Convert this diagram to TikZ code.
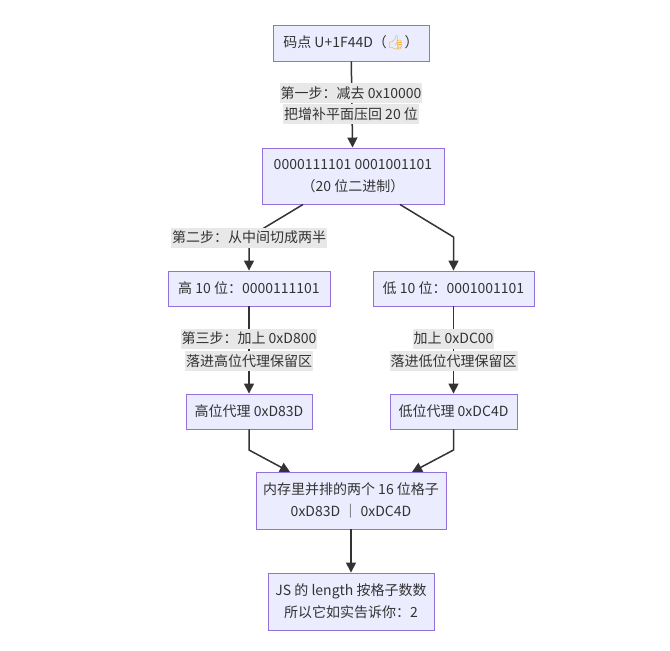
\documentclass[tikz,border=0pt]{standalone}
\usepackage{fontspec}
\setmainfont{Noto Sans CJK SC}
\newfontfamily\emojifont{Noto Emoji}
\usetikzlibrary{arrows.meta}
\definecolor{nodefill}{HTML}{ECECFF}
\definecolor{nodeline}{HTML}{9370DB}
\definecolor{edgecol}{HTML}{333333}
\definecolor{txtcol}{HTML}{333333}
\definecolor{labelbg}{HTML}{E8E8E8}
\definecolor{emojiyellow}{HTML}{F3B52A}
\tikzset{
  box/.style={draw=nodeline, fill=nodefill, line width=0.9pt, rectangle, inner sep=0pt,
    align=center, text=txtcol, font=\fontsize{14}{22}\selectfont},
  edge/.style={draw=edgecol, line width=1.5pt, -{Triangle[length=10pt,width=10pt]}},
  plain/.style={draw=edgecol, line width=1.5pt},
  lbl/.style={fill=labelbg, inner xsep=1pt, inner ysep=0pt, minimum height=20pt,
    text=txtcol, font=\fontsize{14}{22}\selectfont},
}
\begin{document}
\begin{tikzpicture}[x=1pt,y=-1pt]
\useasboundingbox (0,0) rectangle (670,651);
% nodes
\node[box, minimum width=156pt, minimum height=36pt] (A) at (351,43)
  {码点 U+1F44D（{\emojifont\textcolor{emojiyellow}{👍}}）};
\node[box, minimum width=182pt, minimum height=56pt] (B) at (353,176)
  {0000111101 0001001101\\（20 位二进制）};
\node[box, minimum width=162pt, minimum height=35pt] (C) at (249,288.5)
  {高 10 位：0000111101};
\node[box, minimum width=161pt, minimum height=35pt] (D) at (453.5,288.5)
  {低 10 位：0001001101};
\node[box, minimum width=126pt, minimum height=35pt] (E) at (249,411.5)
  {高位代理 0xD83D};
\node[box, minimum width=127pt, minimum height=35pt] (F) at (453.5,411.5)
  {低位代理 0xDC4D};
\node[box, minimum width=190pt, minimum height=57pt] (G) at (351,500.5)
  {内存里并排的两个 16 位格子\\0xD83D \textcolor{edgecol}{｜} 0xDC4D};
\node[box, minimum width=166pt, minimum height=57pt] (H) at (351,601.5)
  {JS 的 length 按格子数数\\所以它如实告诉你：2};
% bend points
\coordinate (bl) at (303,204.5);
\coordinate (kl) at (249,237);
\coordinate (br) at (400,204.5);
\coordinate (kr) at (453.5,237);
\coordinate (ke) at (249,450);
\coordinate (ge) at (290,472);
\coordinate (kf) at (453.5,450);
\coordinate (gf) at (412,472);
% edges
\draw[edge] (A) -- (B);
\draw[edge] (bl) -- (kl) -- (C.north);
\draw[edge] (br) -- (kr) -- (D.north);
\draw[edge] (C) -- (E);
\draw[edge] (D) -- (F);
\draw[edge] (E.south) -- (ke) -- (ge);
\draw[edge] (F.south) -- (kf) -- (gf);
\draw[edge] (G) -- (H);
% edge labels
\node[lbl] (l1a) at (351,93) {第一步：减去 0x10000};
\node[lbl] (l1b) at (351,114) {把增补平面压回 20 位};
\node[lbl] (l2) at (249,237.5) {第二步：从中间切成两半};
\node[lbl] (l3a) at (249,338.5) {第三步：加上 0xD800};
\node[lbl] (l3b) at (249,361) {落进高位代理保留区};
\node[lbl] (l4a) at (453.5,338.5) {加上 0xDC00};
\node[lbl] (l4b) at (453.5,361) {落进低位代理保留区};
\end{tikzpicture}
\end{document}
